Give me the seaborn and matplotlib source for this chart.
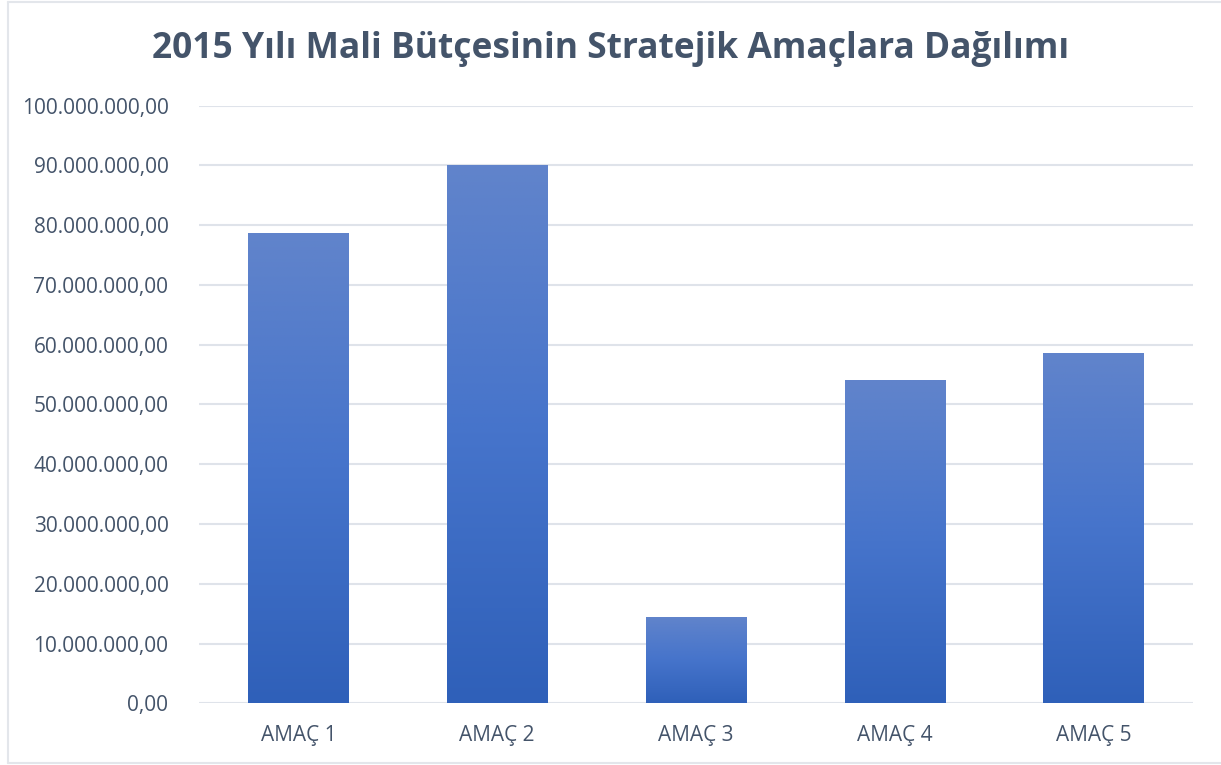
import numpy as np
import pandas as pd
import matplotlib
matplotlib.use("Agg")
import matplotlib.pyplot as plt
import seaborn as sns
from matplotlib.colors import LinearSegmentedColormap
from matplotlib.ticker import FuncFormatter, MultipleLocator
from matplotlib.lines import Line2D

# Veriler
amaclar = ['AMAÇ 1', 'AMAÇ 2', 'AMAÇ 3', 'AMAÇ 4', 'AMAÇ 5']
butce = [78750000, 90100000, 14450000, 54100000, 58600000]

df = pd.DataFrame({'Amac': amaclar, 'Butce': butce})

sns.set_style('white')
plt.rcParams['font.family'] = ['Open Sans', 'DejaVu Sans']

fig = plt.figure(figsize=(12.21, 7.65), dpi=100)
ax = fig.add_axes([0.163, 0.0807, 0.814, 0.7811])

sns.barplot(x='Amac', y='Butce', data=df, ax=ax, width=0.505, color='#4472c4')

# Gradyan dolgu
grad = LinearSegmentedColormap.from_list('g', ['#2f60b9', '#4674cb', '#6184cb'])
for p in ax.patches:
    x0, y0 = p.get_x(), p.get_y()
    w, h = p.get_width(), p.get_height()
    img = ax.imshow(np.linspace(0, 1, 256).reshape(-1, 1), cmap=grad, origin='lower',
                    extent=[x0, x0 + w, y0, y0 + h], aspect='auto', zorder=p.get_zorder())
    img.set_clip_path(p)
    p.set_alpha(0)
ax.set_aspect('auto')
ax.set_xlim(-0.5, len(amaclar) - 0.5)
ax.set_ylim(0, 100000000)

def fmt(v, pos):
    s = f"{v:,.2f}"
    return s.replace(',', 'X').replace('.', ',').replace('X', '.')

ax.yaxis.set_major_locator(MultipleLocator(10000000))
ax.yaxis.set_major_formatter(FuncFormatter(fmt))
ax.grid(axis='y', color='#dfe3ea', linewidth=1.5)
ax.set_axisbelow(True)
for s in ax.spines.values():
    s.set_visible(False)
ax.tick_params(axis='both', length=0, labelsize=15, colors='#44546a')
ax.tick_params(axis='y', pad=22)
ax.tick_params(axis='x', pad=16)
ax.set_xlabel('')
ax.set_ylabel('')

fig.text(0.5, 0.936, '2015 Yılı Mali Bütçesinin Stratejik Amaçlara Dağılımı',
         ha='center', va='center', fontsize=25.5, fontweight='bold', color='#44546a')

# Çerçeve (sol, üst, alt)
kw = dict(transform=fig.transFigure, color='#e3e6eb', linewidth=1.5)
fig.lines.append(Line2D([0.0065, 0.0065], [0.002, 0.998], **kw))
fig.lines.append(Line2D([0.0065, 1.0], [0.998, 0.998], **kw))
fig.lines.append(Line2D([0.0065, 1.0], [0.003, 0.003], **kw))

fig.savefig('out.png', dpi=100)
